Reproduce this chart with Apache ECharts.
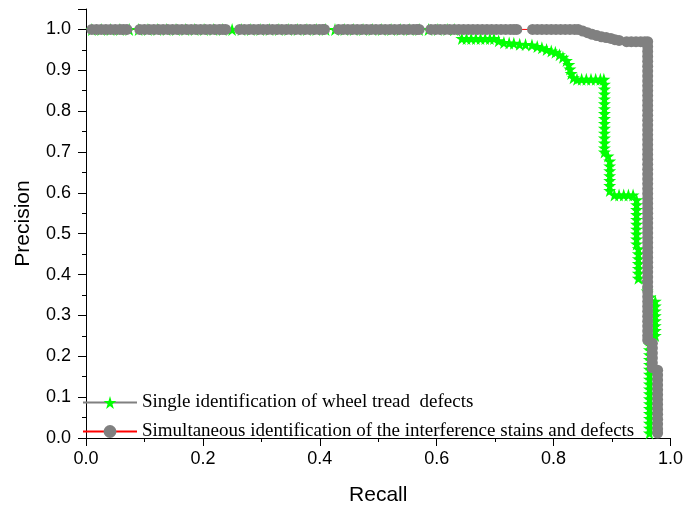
<!DOCTYPE html>
<html>
<head>
<meta charset="utf-8">
<script src="https://cdn.jsdelivr.net/npm/echarts@6/dist/echarts.min.js"></script>
<style>
  html, body { margin: 0; padding: 0; background: #fff; }
  #chart { width: 686px; height: 511px; }
</style>
</head>
<body>
<div id="chart"></div>
<script>
// series names (legend)
const seriesNames = [
  "Single identification of wheel tread  defects",
  "Simultaneous identification of the interference stains and defects"
];

// axis ticks
const xTicks = [0.0, 0.2, 0.4, 0.6, 0.8, 1.0];
const yTicks = [0.0, 0.1, 0.2, 0.3, 0.4, 0.5, 0.6, 0.7, 0.8, 0.9, 1.0];

// green stars: [recall, precision]
const starPR = [
  // precision 1.0 (mostly hidden under the grey band)
  [0.01, 1], [0.026, 1], [0.042, 1], [0.058, 1], [0.074, 1], [0.09, 1], [0.106, 1], [0.122, 1],
  [0.138, 1], [0.154, 1], [0.17, 1], [0.186, 1], [0.202, 1], [0.218, 1], [0.234, 1], [0.25, 1],
  [0.266, 1], [0.282, 1], [0.298, 1], [0.314, 1], [0.33, 1], [0.346, 1], [0.362, 1], [0.378, 1],
  [0.394, 1], [0.41, 1], [0.426, 1], [0.442, 1], [0.458, 1], [0.474, 1], [0.49, 1], [0.506, 1],
  [0.522, 1], [0.538, 1], [0.554, 1], [0.57, 1], [0.586, 1], [0.602, 1], [0.618, 1], [0.63, 1],
  // 0.978 shelf
  [0.643, 0.978], [0.651, 0.978], [0.659, 0.978], [0.667, 0.978], [0.675, 0.978], [0.683, 0.978],
  [0.691, 0.978], [0.698, 0.978],
  // slow descent
  [0.706, 0.972], [0.715, 0.968], [0.724, 0.967], [0.732, 0.966], [0.742, 0.964], [0.752, 0.963],
  [0.763, 0.962], [0.772, 0.958], [0.78, 0.955], [0.788, 0.951], [0.796, 0.947], [0.803, 0.944],
  [0.81, 0.938], [0.816, 0.932], [0.822, 0.924], [0.826, 0.914], [0.828, 0.903], [0.83, 0.892],
  [0.834, 0.882],
  // 0.878 shelf
  [0.84, 0.878], [0.848, 0.878], [0.856, 0.878], [0.864, 0.878], [0.872, 0.878], [0.88, 0.878],
  [0.886, 0.878],
  // drop at 0.887
  [0.887, 0.866], [0.887, 0.854], [0.887, 0.842], [0.887, 0.83], [0.887, 0.818], [0.887, 0.806],
  [0.887, 0.794], [0.887, 0.782], [0.887, 0.77], [0.887, 0.758], [0.887, 0.746], [0.887, 0.734],
  [0.887, 0.722], [0.887, 0.71], [0.887, 0.7],
  [0.893, 0.69],
  [0.896, 0.678], [0.896, 0.666], [0.896, 0.654], [0.896, 0.642], [0.896, 0.63], [0.896, 0.618],
  [0.896, 0.606],
  // 0.595 shelf
  [0.904, 0.595], [0.912, 0.595], [0.92, 0.595], [0.928, 0.595], [0.936, 0.595],
  // drop at 0.942
  [0.942, 0.583], [0.942, 0.571], [0.942, 0.559], [0.942, 0.547], [0.942, 0.535], [0.942, 0.523],
  [0.942, 0.511], [0.942, 0.499], [0.942, 0.487], [0.942, 0.475],
  [0.945, 0.463], [0.945, 0.451], [0.945, 0.439], [0.945, 0.427], [0.945, 0.415], [0.945, 0.403],
  [0.945, 0.391],
  [0.958, 0.38], [0.96, 0.36], [0.965, 0.345],
  [0.974, 0.335], [0.974, 0.323], [0.974, 0.311], [0.974, 0.299], [0.974, 0.287], [0.974, 0.275],
  [0.974, 0.263], [0.974, 0.251],
  [0.964, 0.24], [0.964, 0.228], [0.964, 0.216], [0.964, 0.204], [0.964, 0.192], [0.964, 0.18],
  [0.964, 0.168], [0.964, 0.156], [0.964, 0.144], [0.964, 0.132], [0.964, 0.12], [0.964, 0.108],
  [0.964, 0.096], [0.964, 0.084], [0.964, 0.072], [0.964, 0.06], [0.964, 0.048], [0.964, 0.036],
  [0.964, 0.024], [0.964, 0.012]
];

// grey circles: [recall, precision]
const circlePR = [
  [0.01, 1], [0.018, 1], [0.026, 1], [0.034, 1], [0.042, 1], [0.05, 1], [0.058, 1], [0.064, 1], [0.07, 1],
  [0.092, 1], [0.1, 1], [0.108, 1], [0.116, 1], [0.124, 1], [0.132, 1], [0.14, 1], [0.148, 1],
  [0.156, 1], [0.164, 1], [0.172, 1], [0.18, 1], [0.188, 1], [0.196, 1], [0.204, 1], [0.212, 1],
  [0.22, 1], [0.228, 1], [0.234, 1], [0.239, 1],
  [0.263, 1], [0.271, 1], [0.279, 1], [0.287, 1], [0.295, 1], [0.303, 1], [0.311, 1], [0.319, 1],
  [0.327, 1], [0.335, 1], [0.343, 1], [0.351, 1], [0.359, 1], [0.367, 1], [0.375, 1], [0.383, 1],
  [0.391, 1], [0.399, 1], [0.405, 1], [0.408, 1],
  [0.432, 1], [0.44, 1], [0.448, 1], [0.456, 1], [0.464, 1], [0.472, 1], [0.48, 1], [0.488, 1],
  [0.496, 1], [0.504, 1], [0.512, 1], [0.52, 1], [0.528, 1], [0.536, 1], [0.544, 1], [0.552, 1],
  [0.56, 1], [0.566, 1], [0.57, 1],
  [0.59, 1], [0.598, 1], [0.606, 1], [0.614, 1], [0.622, 1], [0.63, 1], [0.638, 1], [0.646, 1],
  [0.654, 1], [0.662, 1], [0.67, 1], [0.678, 1], [0.686, 1], [0.694, 1], [0.702, 1], [0.71, 1],
  [0.718, 1], [0.726, 1], [0.732, 1], [0.737, 1],
  [0.764, 1], [0.772, 1], [0.78, 1], [0.788, 1], [0.796, 1], [0.804, 1], [0.812, 1], [0.82, 1],
  [0.828, 1], [0.836, 1], [0.842, 1],
  [0.85, 0.996], [0.858, 0.992], [0.866, 0.988], [0.874, 0.985], [0.882, 0.982], [0.89, 0.98],
  [0.898, 0.978], [0.905, 0.975], [0.912, 0.973],
  [0.925, 0.97], [0.933, 0.97], [0.941, 0.97], [0.949, 0.97], [0.956, 0.97], [0.961, 0.97],
  [0.961, 0.958], [0.961, 0.946], [0.961, 0.934], [0.961, 0.922], [0.961, 0.91], [0.961, 0.898],
  [0.961, 0.886], [0.961, 0.874], [0.961, 0.862], [0.961, 0.85], [0.961, 0.838], [0.961, 0.826],
  [0.961, 0.814], [0.961, 0.802], [0.961, 0.79], [0.961, 0.778], [0.961, 0.766], [0.961, 0.754],
  [0.961, 0.742], [0.961, 0.73], [0.961, 0.718], [0.961, 0.706], [0.961, 0.694], [0.961, 0.682],
  [0.961, 0.67], [0.961, 0.658], [0.961, 0.646], [0.961, 0.634], [0.961, 0.622], [0.961, 0.61],
  [0.961, 0.598], [0.961, 0.586], [0.961, 0.574], [0.961, 0.562], [0.961, 0.55], [0.961, 0.538],
  [0.961, 0.526], [0.961, 0.514], [0.961, 0.502], [0.961, 0.49], [0.961, 0.478], [0.961, 0.466],
  [0.961, 0.454], [0.961, 0.442], [0.961, 0.43], [0.961, 0.418], [0.961, 0.406], [0.961, 0.394],
  [0.961, 0.382], [0.961, 0.37], [0.961, 0.358], [0.961, 0.346], [0.961, 0.334], [0.961, 0.322],
  [0.961, 0.31], [0.961, 0.298], [0.961, 0.286], [0.961, 0.274], [0.961, 0.262], [0.961, 0.25],
  [0.961, 0.24],
  [0.969, 0.232], [0.969, 0.22], [0.969, 0.208], [0.969, 0.196], [0.969, 0.184], [0.969, 0.172],
  [0.978, 0.166], [0.978, 0.154], [0.978, 0.142], [0.978, 0.13], [0.978, 0.118], [0.978, 0.106],
  [0.978, 0.094], [0.978, 0.082], [0.978, 0.07], [0.978, 0.058], [0.978, 0.046], [0.978, 0.034],
  [0.978, 0.022], [0.978, 0.012]
];

const starPath = "path://M50,0L61,35L98,35L68,57L79,91L50,70L21,91L32,57L2,35L39,35Z";

const chart = echarts.init(document.getElementById("chart"));

const fmt = (v) => v.toFixed(1);

chart.setOption({
  animation: false,
  grid: { left: 86, right: 14, top: 9, bottom: 70, containLabel: false },
  legend: {
    orient: "vertical",
    left: 77,
    top: 388,
    itemWidth: 54,
    itemHeight: 16,
    itemGap: 10,
    textStyle: { fontFamily: "Liberation Serif", fontSize: 19, color: "#000" },
    data: seriesNames
  },
  xAxis: {
    type: "value",
    min: xTicks[0],
    max: xTicks[xTicks.length - 1],
    interval: 0.2,
    name: "Recall",
    nameLocation: "middle",
    nameGap: 47,
    nameTextStyle: { fontFamily: "Liberation Sans", fontSize: 21, color: "#000" },
    axisLine: { lineStyle: { color: "#000", width: 1 } },
    axisTick: { inside: false, length: 8, lineStyle: { color: "#000" } },
    minorTick: { show: true, splitNumber: 2, length: 4, lineStyle: { color: "#000" } },
    splitLine: { show: false },
    axisLabel: { margin: 12, fontFamily: "Liberation Sans", fontSize: 18, color: "#000", formatter: fmt }
  },
  yAxis: {
    type: "value",
    min: yTicks[0],
    max: 1.05,
    interval: 0.1,
    name: "Precision",
    nameLocation: "middle",
    nameGap: 52,
    nameTextStyle: { fontFamily: "Liberation Sans", fontSize: 21, color: "#000" },
    axisLine: { lineStyle: { color: "#000", width: 1 } },
    axisTick: { inside: false, length: 8, lineStyle: { color: "#000" } },
    minorTick: { show: true, splitNumber: 2, length: 4, lineStyle: { color: "#000" } },
    splitLine: { show: false },
    axisLabel: {
      margin: 15,
      fontFamily: "Liberation Sans",
      fontSize: 18,
      color: "#000",
      showMaxLabel: false,
      formatter: (v) => (v > 1.0001 ? "" : fmt(v))
    }
  },
  series: [
    {
      name: seriesNames[0],
      type: "line",
      data: starPR,
      symbol: starPath,
      symbolSize: 13,
      showAllSymbol: true,
      itemStyle: { color: "#00ff00" },
      lineStyle: { color: "#808080", width: 1 }
    },
    {
      name: seriesNames[1],
      type: "line",
      data: circlePR,
      symbol: "circle",
      symbolSize: 11,
      showAllSymbol: true,
      itemStyle: { color: "#808080" },
      lineStyle: { color: "#ff0000", width: 1 }
    }
  ]
});
</script>
</body>
</html>
